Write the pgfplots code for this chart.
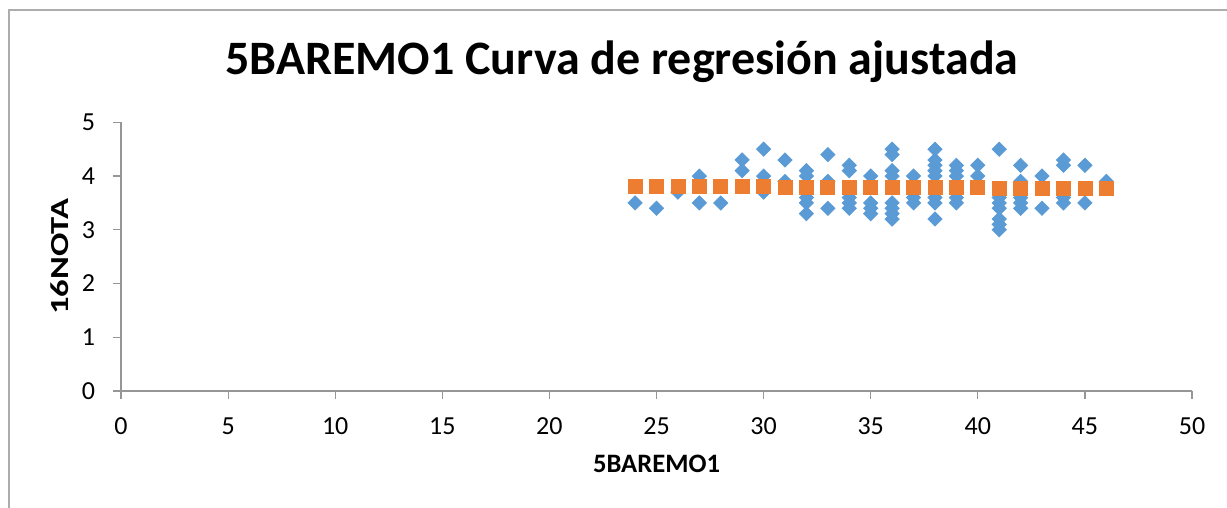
\documentclass[border=0pt]{standalone}
\usepackage{pgfplots}
\pgfplotsset{compat=1.18}
\usepackage{graphicx}
\usepackage{fontspec}
\setmainfont{Carlito}
\definecolor{ptblue}{RGB}{91,155,213}
\definecolor{ptorange}{RGB}{237,125,49}
\definecolor{axgray}{RGB}{150,150,150}
\definecolor{framegray}{RGB}{173,173,173}
\begin{document}
\begin{tikzpicture}[x=0.5pt,y=0.5pt]
\path[use as bounding box] (0,0) rectangle (1227,508);
\draw[framegray, line width=1.2pt] (9,0) -- (9,498) -- (1227,498);
\node[anchor=base, font=\fontsize{24pt}{28pt}\selectfont\bfseries] at (622,433) {5BAREMO1 Curva de regresión ajustada};
\begin{axis}[
  at={(60.5pt,58.5pt)}, anchor=south west,
  scale only axis, width=535.5pt, height=134.35pt,
  xmin=0, xmax=50, ymin=0, ymax=5,
  xtick={0,5,...,50}, ytick={0,1,...,5},
  axis x line*=bottom, axis y line*=left,
  axis line style={axgray, line width=0.6pt, -},
  tick align=outside, major tick length=4pt,
  every tick/.style={axgray, line width=0.6pt},
  tick label style={font=\fontsize{13pt}{15pt}\selectfont},
  xticklabel style={yshift=-6pt},
  yticklabel style={xshift=-5.5pt},
  /pgf/number format/assume math mode=true,
  xlabel={5BAREMO1}, ylabel={\scalebox{1.33}[1]{16NOTA}},
  xlabel style={at={(axis description cs:0.5,-0.305)}, anchor=base, font=\fontsize{13.3pt}{15pt}\selectfont\bfseries},
  ylabel style={at={(axis description cs:-0.0492,0.5)}, anchor=base, font=\fontsize{13pt}{15pt}\selectfont\bfseries},
  clip=false,
]
\addplot[only marks, mark=square*, mark size=2.5pt, mark options={rotate=45, fill=ptblue, draw=ptblue}] coordinates {
(24,3.5) (25,3.4) (26,3.7) (27,4.0) (27,3.5) (28,3.5)
(29,4.3) (29,4.1) (30,4.5) (30,4.0) (30,3.7) (31,4.3) (31,3.9)
(32,4.1) (32,4.0) (32,3.6) (32,3.5) (32,3.3)
(33,4.4) (33,3.9) (33,3.4)
(34,4.2) (34,4.1) (34,3.6) (34,3.5) (34,3.4)
(35,4.0) (35,3.5) (35,3.4) (35,3.3)
(36,4.5) (36,4.4) (36,4.1) (36,4.0) (36,3.5) (36,3.4) (36,3.3) (36,3.2)
(37,4.0) (37,3.6) (37,3.5)
(38,4.5) (38,4.3) (38,4.2) (38,4.1) (38,4.0) (38,3.6) (38,3.5) (38,3.2)
(39,4.2) (39,4.1) (39,4.0) (39,3.6) (39,3.5)
(40,4.2) (40,4.0)
(41,4.5) (41,3.6) (41,3.5) (41,3.4) (41,3.2) (41,3.1) (41,3.0)
(42,4.2) (42,3.9) (42,3.6) (42,3.5) (42,3.4)
(43,4.0) (43,3.4)
(44,4.3) (44,4.2) (44,3.6) (44,3.5)
(45,4.2) (45,3.5)
(46,3.9)
};
\addplot[only marks, mark=square*, mark size=3.5pt, mark options={fill=ptorange, draw=ptorange}] coordinates {
(24,3.810) (25,3.808) (26,3.806) (27,3.805) (28,3.803) (29,3.801)
(30,3.799) (31,3.797) (32,3.795) (33,3.794) (34,3.792) (35,3.790)
(36,3.788) (37,3.786) (38,3.785) (39,3.783) (40,3.781) (41,3.779)
(42,3.777) (43,3.775) (44,3.774) (45,3.772) (46,3.770)
};
\end{axis}
\end{tikzpicture}
\end{document}
